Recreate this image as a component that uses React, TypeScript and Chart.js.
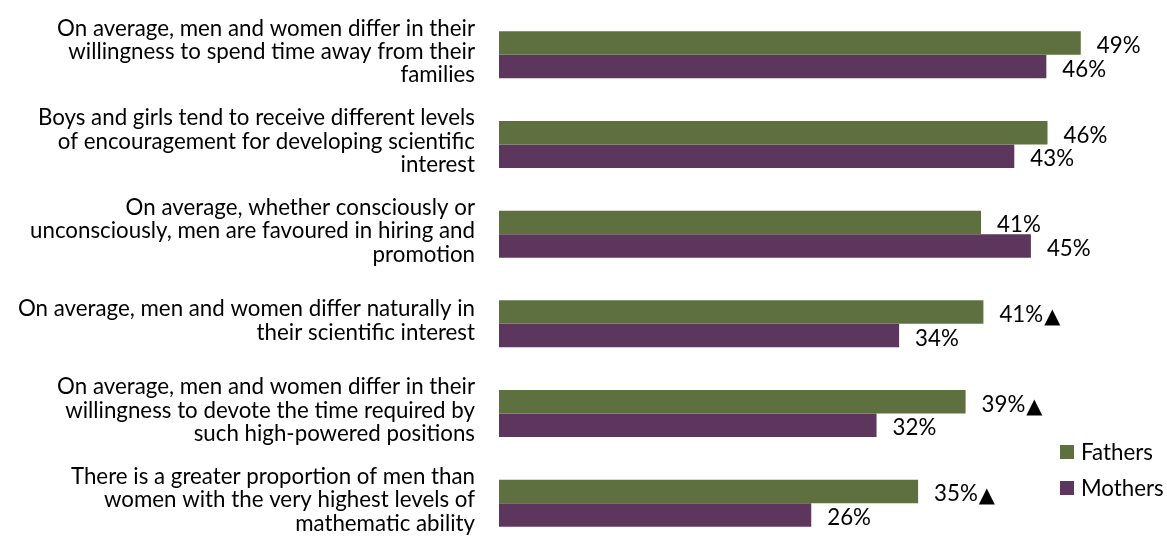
import React, { useEffect, useRef } from "react";
import { Chart, registerables } from "chart.js";

Chart.register(...registerables);

const categories: string[][] = [
  ["On average, men and women differ in their", "willingness to spend time away from their", "families"],
  ["Boys and girls tend to receive different levels", "of encouragement for developing scientific", "interest"],
  ["On average, whether consciously or", "unconsciously, men are favoured in hiring and", "promotion"],
  ["On average, men and women differ naturally in", "their scientific interest"],
  ["On average, men and women differ in their", "willingness to devote the time required by", "such high-powered positions"],
  ["There is a greater proportion of men than", "women with the very highest levels of", "mathematic ability"],
];

const fathers: number[] = [49.0, 46.2, 40.6, 40.8, 39.3, 35.3];
const mothers: number[] = [46.1, 43.4, 44.8, 33.7, 31.8, 26.3];

// significance markers shown after the data label
const fathersMarks: boolean[] = [false, false, false, true, true, true];
const mothersMarks: boolean[] = [false, false, false, false, false, false];

const seriesNames = ["Fathers", "Mothers"];
const seriesColors = ["#5F7040", "#5C365C"];

const FONT = "Lato, Carlito, Calibri, 'Noto Sans', sans-serif";
const FONT_SIZE = 22.3;

const dataLabelPlugin = {
  id: "dataLabels",
  afterDatasetsDraw(chart: any) {
    const ctx = chart.ctx;
    const marks = [fathersMarks, mothersMarks];
    ctx.save();
    ctx.fillStyle = "#000";
    ctx.textAlign = "left";
    ctx.textBaseline = "alphabetic";
    chart.data.datasets.forEach((ds: any, di: number) => {
      const meta = chart.getDatasetMeta(di);
      meta.data.forEach((bar: any, i: number) => {
        const v = ds.data[i] as number;
        const txt = Math.round(v) + "%";
        const x = bar.x + 16;
        const y = bar.y + 10;
        ctx.font = `${FONT_SIZE}px ${FONT}`;
        ctx.fillText(txt, x, y);
        if (marks[di][i]) {
          const w = ctx.measureText(txt).width;
          ctx.font = `21px 'DejaVu Sans'`;
          ctx.fillText("\u25B2", x + w + 1, y + 1);
        }
      });
    });
    ctx.restore();
  },
};

const legendPlugin = {
  id: "customLegend",
  afterDraw(chart: any) {
    const ctx = chart.ctx;
    ctx.save();
    ctx.textAlign = "left";
    ctx.textBaseline = "middle";
    ctx.font = `${FONT_SIZE}px ${FONT}`;
    chart.data.datasets.forEach((ds: any, di: number) => {
      const bx = 1060;
      const by = 445 + di * 36;
      ctx.fillStyle = ds.backgroundColor;
      ctx.fillRect(bx, by, 14, 14);
      ctx.fillStyle = "#000";
      ctx.fillText(ds.label, bx + 21, by + 8);
    });
    ctx.restore();
  },
};

export default function App() {
  const ref = useRef<HTMLCanvasElement | null>(null);

  useEffect(() => {
    if (!ref.current) return;
    const chart = new Chart(ref.current, {
      type: "bar",
      data: {
        labels: categories,
        datasets: [
          {
            label: seriesNames[0],
            data: fathers,
            backgroundColor: seriesColors[0],
            categoryPercentage: 0.525,
            barPercentage: 1.0,
          },
          {
            label: seriesNames[1],
            data: mothers,
            backgroundColor: seriesColors[1],
            categoryPercentage: 0.525,
            barPercentage: 1.0,
          },
        ],
      },
      options: {
        indexAxis: "y",
        responsive: false,
        animation: false,
        devicePixelRatio: 1,
        layout: { padding: { top: 10, bottom: 12, left: 0, right: 15 } },
        scales: {
          x: {
            display: false,
            min: 0,
            max: 55,
          },
          y: {
            grid: { display: false, drawTicks: false },
            border: { display: false },
            ticks: {
              color: "#000",
              padding: 24,
              labelOffset: -3,
              autoSkip: false,
              font: { family: FONT, size: FONT_SIZE, lineHeight: 1.05 },
            },
            afterFit(scale: any) {
              scale.width = 499;
              scale.paddingTop = 0;
              scale.paddingBottom = 0;
            },
          },
        },
        plugins: {
          legend: { display: false },
          tooltip: { enabled: false },
        },
      },
      plugins: [dataLabelPlugin, legendPlugin],
    });
    return () => chart.destroy();
  }, []);

  return (
    <div
      style={{
        position: "absolute",
        left: 0,
        top: 0,
        width: 1167,
        height: 540,
        overflow: "hidden",
        background: "#fff",
      }}
    >
      <canvas ref={ref} width={1167} height={560} style={{ display: "block" }} />
    </div>
  );
}
